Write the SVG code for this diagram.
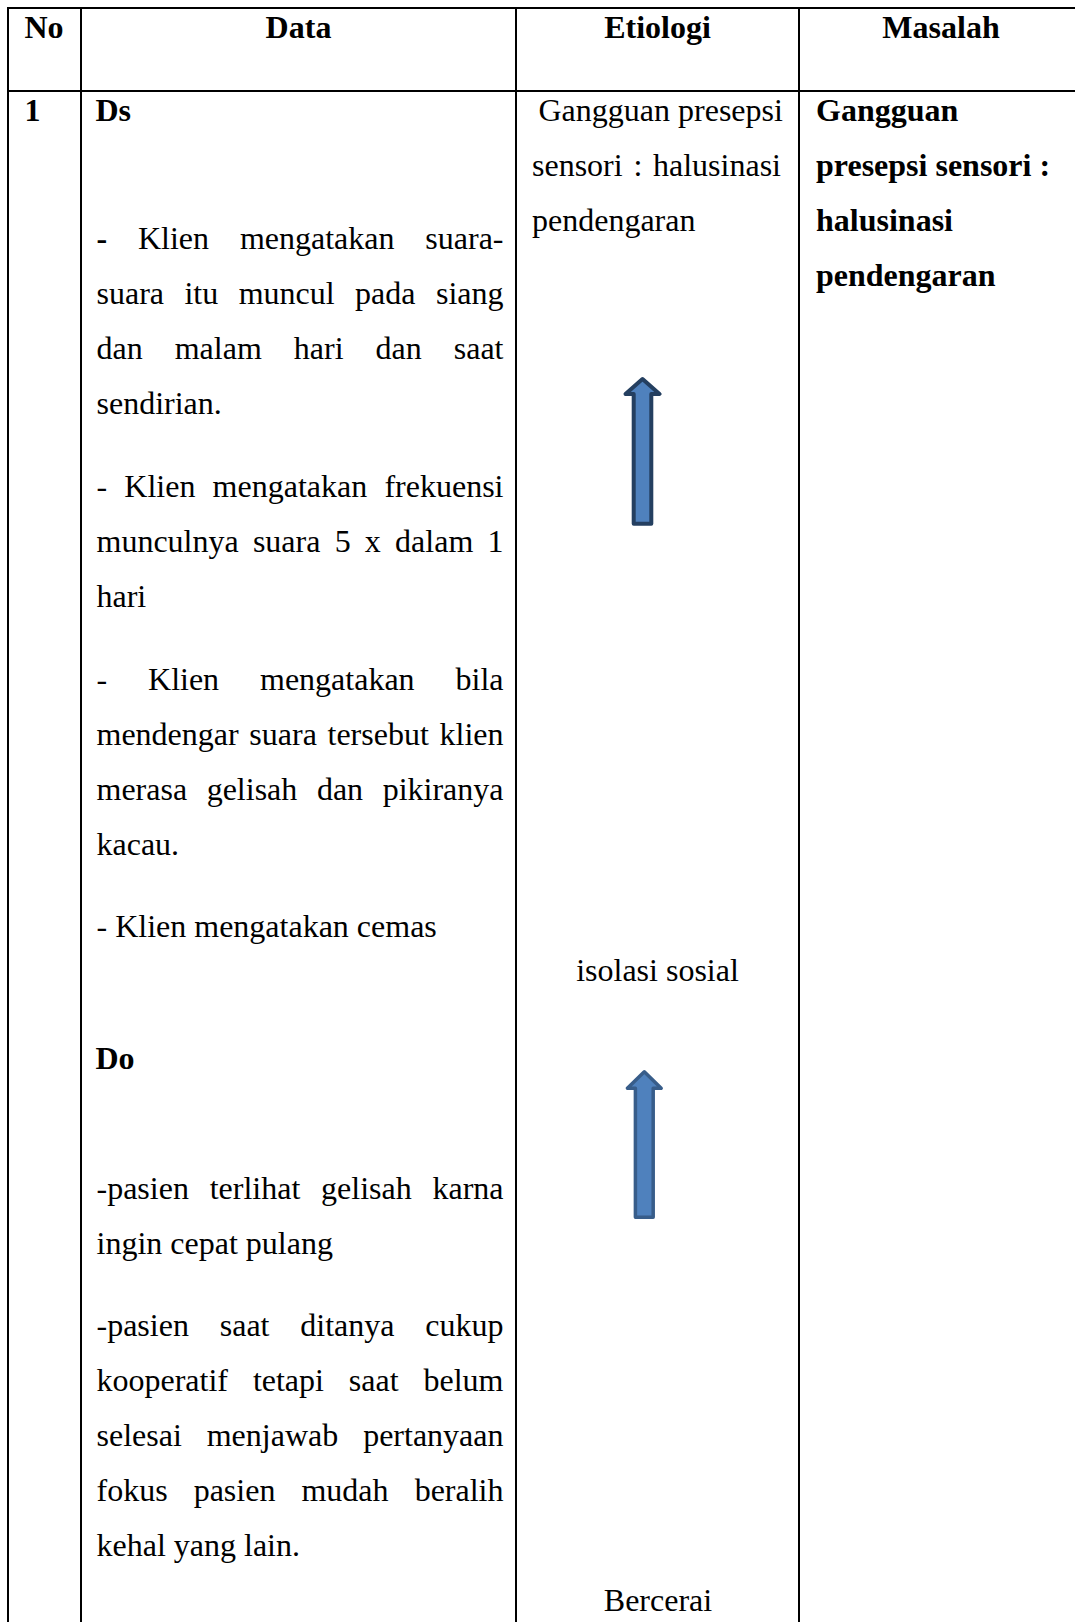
<svg xmlns="http://www.w3.org/2000/svg" width="1075" height="1622" viewBox="0 0 1075 1622">
<style>
.t{font-family:"Liberation Serif","Times New Roman",serif;font-size:32px;fill:#000}
.b{font-weight:bold}
.m{text-anchor:middle}
.e{text-anchor:end}
.grid{stroke:#000;stroke-width:2;fill:none}
.arr{fill:#4F81BD;stroke-linejoin:round}
</style>
<rect width="1075" height="1622" fill="#fff"/>
<g id="table-grid" class="grid">
<line x1="7" y1="8" x2="1075" y2="8"/>
<line x1="7" y1="91" x2="1075" y2="91"/>
<line x1="8" y1="7" x2="8" y2="1622"/>
<line x1="81" y1="7" x2="81" y2="1622"/>
<line x1="516" y1="7" x2="516" y2="1622"/>
<line x1="799" y1="7" x2="799" y2="1622"/>
</g>
<g id="header">
<text class="t b" x="24.5" y="38">No</text>
<text class="t b m" x="298.5" y="38">Data</text>
<text class="t b m" x="657.5" y="38">Etiologi</text>
<text class="t b m" x="941" y="38">Masalah</text>
</g>
<g id="no-cell">
<text class="t b" x="24.5" y="120.5">1</text>
</g>
<g id="data-cell">
<text class="t b" x="95.5" y="120.5">Ds</text>
<text class="t" y="249"><tspan class="b" x="96.5">-</tspan><tspan x="137.97">Klien</tspan><tspan x="239.89">mengatakan</tspan><tspan class="e" x="503.5">suara-</tspan></text>
<text class="t" y="304"><tspan x="96.5">suara</tspan><tspan x="184.45">itu</tspan><tspan x="238.67">muncul</tspan><tspan x="355.1">pada</tspan><tspan class="e" x="503.5">siang</tspan></text>
<text class="t" y="359"><tspan x="96.5">dan</tspan><tspan x="174.7">malam</tspan><tspan x="293.79">hari</tspan><tspan x="375.54">dan</tspan><tspan class="e" x="503.5">saat</tspan></text>
<text class="t" x="96.5" y="414">sendirian.</text>
<text class="t" y="496.5"><tspan x="96.5">-</tspan><tspan x="124.34">Klien</tspan><tspan x="212.62">mengatakan</tspan><tspan class="e" x="503.5">frekuensi</tspan></text>
<text class="t" y="551.5"><tspan x="96.5">munculnya</tspan><tspan x="252.92">suara</tspan><tspan x="334.65">5</tspan><tspan x="364.87">x</tspan><tspan x="395.08">dalam</tspan><tspan class="e" x="503.5">1</tspan></text>
<text class="t" x="96.5" y="606.5">hari</text>
<text class="t" y="690"><tspan x="96.5">-</tspan><tspan x="148.03">Klien</tspan><tspan x="260">mengatakan</tspan><tspan class="e" x="503.5">bila</tspan></text>
<text class="t" y="745"><tspan x="96.5">mendengar</tspan><tspan x="249.34">suara</tspan><tspan x="327.52">tersebut</tspan><tspan class="e" x="503.5">klien</tspan></text>
<text class="t" y="800"><tspan x="96.5">merasa</tspan><tspan x="206.67">gelisah</tspan><tspan x="316.88">dan</tspan><tspan class="e" x="503.5">pikiranya</tspan></text>
<text class="t" x="96.5" y="855">kacau.</text>
<text class="t" x="96.5" y="937">- Klien mengatakan cemas</text>
<text class="t b" x="95.5" y="1069">Do</text>
<text class="t" y="1199"><tspan x="96.5">-pasien</tspan><tspan x="209.65">terlihat</tspan><tspan x="321.04">gelisah</tspan><tspan class="e" x="503.5">karna</tspan></text>
<text class="t" x="96.5" y="1254">ingin cepat pulang</text>
<text class="t" y="1336"><tspan x="96.5">-pasien</tspan><tspan x="219.72">saat</tspan><tspan x="300.28">ditanya</tspan><tspan class="e" x="503.5">cukup</tspan></text>
<text class="t" y="1391"><tspan x="96.5">kooperatif</tspan><tspan x="252.89">tetapi</tspan><tspan x="348.87">saat</tspan><tspan class="e" x="503.5">belum</tspan></text>
<text class="t" y="1446"><tspan x="96.5">selesai</tspan><tspan x="206.7">menjawab</tspan><tspan class="e" x="503.5">pertanyaan</tspan></text>
<text class="t" y="1501"><tspan x="96.5">fokus</tspan><tspan x="193.66">pasien</tspan><tspan x="301.48">mudah</tspan><tspan class="e" x="503.5">beralih</tspan></text>
<text class="t" x="96.5" y="1556">kehal yang lain.</text>
</g>
<g id="etiologi-cell">
<text class="t" x="538.5" y="120.5">Gangguan presepsi</text>
<text class="t" y="175.5"><tspan x="532">sensori</tspan><tspan x="633.38">:</tspan><tspan class="e" x="781">halusinasi</tspan></text>
<text class="t" x="532" y="230.5">pendengaran</text>
</g>
<g id="isolasi-sosial">
<text class="t m" x="657.5" y="981">isolasi sosial</text>
</g>
<g id="bercerai">
<text class="t m" x="658" y="1611">Bercerai</text>
</g>
<g id="masalah-cell">
<text class="t b" x="816" y="120.5">Gangguan</text>
<text class="t b" x="816" y="175.5">presepsi sensori :</text>
<text class="t b" x="816" y="230.5">halusinasi</text>
<text class="t b" x="816" y="285.5">pendengaran</text>
</g>
<g id="connectors">
<path class="arr" stroke="#243F60" stroke-width="4" d="M642.5,379 L659.5,394 L651.3,394 L651.3,523.7 L633.7,523.7 L633.7,394 L625.5,394 Z"/>
<path class="arr" stroke="#385D8A" stroke-width="3.5" d="M644.3,1071.8 L661.2,1088.2 L653.2,1088.2 L653.2,1217.2 L635.4,1217.2 L635.4,1088.2 L627.4,1088.2 Z"/>
</g>
</svg>
